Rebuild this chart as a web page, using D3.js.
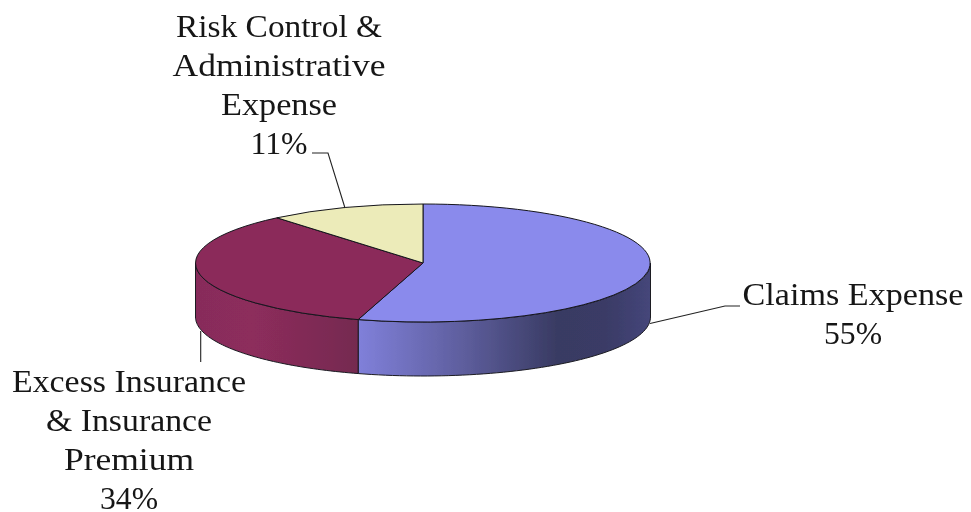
<!DOCTYPE html>
<html>
<head>
<meta charset="utf-8">
<script src="https://d3js.org/d3.v7.min.js"></script>
<style>
  html, body { margin: 0; padding: 0; background: #fff; }
  svg { display: block; }
  text { font-family: "Liberation Serif", serif; font-size: 32px; fill: #141414; text-anchor: middle; }
</style>
</head>
<body>
<div id="chart"></div>
<script>
var categories = ["Claims Expense", "Excess Insurance & Insurance Premium", "Risk Control & Administrative Expense"];
// slice sizes as drawn; the printed labels round these to 55 / 34 / 11
var values = [54.6, 34.3, 11.1];
var labelLines = [
    ["Claims Expense", "55%"],
    ["Excess Insurance", "& Insurance", "Premium", "34%"],
    ["Risk Control &", "Administrative", "Expense", "11%"]
];
var topColors = ["#8a8aec", "#8b2c5a", "#ecebb9"];

var width = 971, height = 512;
var cx = 423, cy = 263, rx = 227.5, ry = 59, depth = 54;

// unit circle -> screen ellipse
var px = d3.scaleLinear().domain([-1, 1]).range([cx - rx, cx + rx]);
var py = d3.scaleLinear().domain([-1, 1]).range([cy - ry, cy + ry]);

var svg = d3.select("#chart").append("svg")
    .attr("width", width)
    .attr("height", height);

var defs = svg.append("defs");
defs.append("filter").attr("id", "soft")
    .append("feGaussianBlur").attr("stdDeviation", 0.45);

function gradient(id, x1, x2, stops) {
    var g = defs.append("linearGradient").attr("id", id)
        .attr("gradientUnits", "userSpaceOnUse")
        .attr("x1", x1).attr("x2", x2).attr("y1", 0).attr("y2", 0);
    stops.forEach(function(s) {
        g.append("stop").attr("offset", s[0]).attr("stop-color", s[1]);
    });
}
gradient("wall0", 358, 650, [[0, "#8080da"], [0.35, "#5f5f9f"], [0.68, "#393b63"], [0.85, "#3a3b66"], [1, "#45467a"]]);
gradient("wall1", 195, 358, [[0, "#872c5a"], [0.35, "#8d2d5c"], [1, "#752a50"]]);

var slices = d3.pie().sort(null)(values);

var pie3d = svg.append("g").attr("filter", "url(#soft)");

// side walls, only the part of a slice facing the viewer (90deg..270deg)
function wallPath(a0, a1) {
    var steps = d3.range(0, 61).map(function(i) { return a0 + (a1 - a0) * i / 60; });
    var front = steps.map(function(a) { return [px(Math.sin(a)), py(-Math.cos(a))]; });
    var back = steps.slice().reverse().map(function(a) { return [px(Math.sin(a)), py(-Math.cos(a)) + depth]; });
    return d3.line()(front.concat(back)) + "Z";
}

slices.forEach(function(d, i) {
    var a0 = Math.max(d.startAngle, Math.PI / 2);
    var a1 = Math.min(d.endAngle, Math.PI * 3 / 2);
    if (a1 <= a0) return;
    pie3d.append("path")
        .attr("d", wallPath(a0, a1))
        .attr("fill", "url(#wall" + i + ")")
        .attr("stroke", "#1a1a22")
        .attr("stroke-width", 1);
});

// top faces
var arc = d3.arc().innerRadius(0).outerRadius(1);
pie3d.selectAll("path.top")
    .data(slices)
    .enter()
    .append("path")
    .attr("class", "top")
    .attr("transform", "translate(" + cx + "," + cy + ") scale(" + rx + "," + ry + ")")
    .attr("d", arc)
    .attr("fill", function(d, i) { return topColors[i]; })
    .attr("stroke", "#15151c")
    .attr("stroke-width", 1)
    .attr("vector-effect", "non-scaling-stroke");

// leader lines
var leaders = [
    [[650, 323.5], [725, 306], [740, 306]],
    [[200.7, 331], [200.7, 362]],
    [[312, 153], [328, 153], [345, 208]]
];
svg.selectAll("path.leader")
    .data(leaders)
    .enter()
    .append("path")
    .attr("class", "leader")
    .attr("d", d3.line())
    .attr("fill", "none")
    .attr("stroke", "#222")
    .attr("stroke-width", 1.1);

// labels, widths stretched to the wider serif of the original
var labelPos = [
    { x: 853, y: 305 },
    { x: 129, y: 392 },
    { x: 279, y: 37 }
];
var lineWidths = [
    [221, 58],
    [234, 166, 130, 58],
    [206, 213, 116, 57]
];
var lineGap = 39;
var labels = svg.selectAll("g.label")
    .data(labelLines)
    .enter()
    .append("g")
    .attr("class", "label")
    .attr("filter", "url(#soft)")
    .attr("aria-label", function(d, i) { return categories[i]; });
labels.selectAll("text")
    .data(function(d, i) {
        return d.map(function(t, j) {
            return { t: t, x: labelPos[i].x, y: labelPos[i].y + j * lineGap, w: lineWidths[i][j] };
        });
    })
    .enter()
    .append("text")
    .attr("x", function(d) { return d.x; })
    .attr("y", function(d) { return d.y; })
    .attr("textLength", function(d) { return d.w; })
    .attr("lengthAdjust", "spacingAndGlyphs")
    .text(function(d) { return d.t; });
</script>
</body>
</html>
